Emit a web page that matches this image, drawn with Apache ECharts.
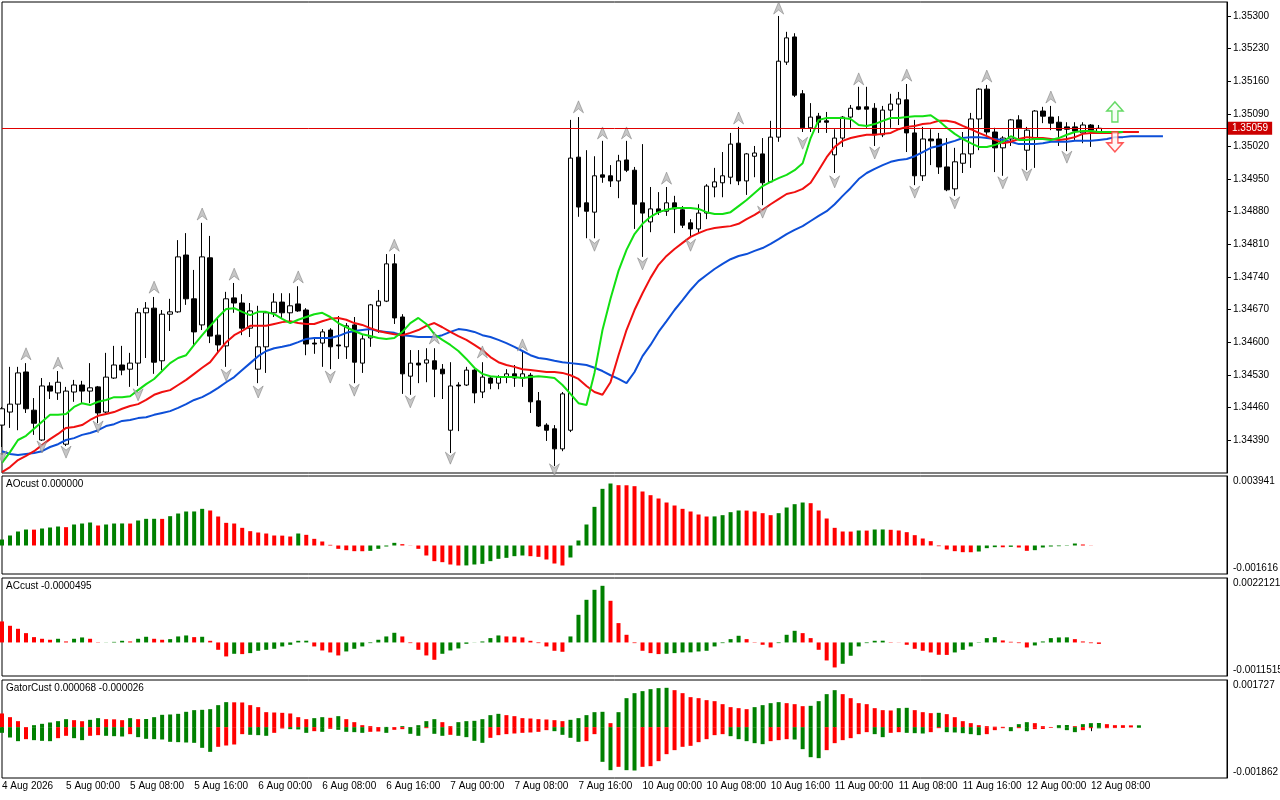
<!DOCTYPE html>
<html><head><meta charset="utf-8">
<script src="https://cdn.jsdelivr.net/npm/echarts@6/dist/echarts.min.js"></script>
<style>html,body{margin:0;padding:0;background:#fff}#c{width:1280px;height:800px}</style>
</head><body><div id="c"></div>
<script>
// ---- data (H1 bars, 4 Aug 2026 16:00 .. 12 Aug 2026 09:00) ----
const opens = [1.34422,1.34450,1.34467,1.34536,1.34454,1.34390,1.34506,1.34491,1.34381,1.34493,
1.34508,1.34495,1.34504,1.34450,1.34523,1.34551,1.34542,1.34555,1.34663,1.34673,
1.34560,1.34660,1.34665,1.34787,1.34693,1.34637,1.34781,1.34615,1.34592,1.34695,
1.34684,1.34630,1.34542,1.34590,1.34663,1.34686,1.34663,1.34682,1.34669,1.34598,
1.34598,1.34626,1.34594,1.34590,1.34637,1.34555,1.34609,1.34678,1.34688,1.34768,
1.34654,1.34527,1.34555,1.34555,1.34560,1.34542,1.34411,1.34508,1.34508,1.34540,
1.34493,1.34523,1.34512,1.34525,1.34532,1.34523,1.34529,1.34474,1.34422,1.34414,
1.34371,1.34411,1.34997,1.34899,1.34879,1.34959,1.34957,1.34946,1.34991,1.34969,
1.34899,1.34858,1.34886,1.34881,1.34899,1.34884,1.34856,1.34843,1.34877,1.34933,
1.34942,1.34954,1.35027,1.34946,1.34999,1.35004,1.34944,1.35040,1.35201,1.35255,
1.35133,1.35060,1.35085,1.35075,1.35002,1.35038,1.35083,1.35105,1.35105,1.35102,
1.35045,1.35098,1.35111,1.35120,1.35049,1.34957,1.35036,1.35036,1.34976,1.34929,
1.34984,1.35004,1.35079,1.35143,1.35051,1.35017,1.35036,1.35077,1.35012,1.35036,
1.35096,1.35083,1.35072,1.35062,1.35062,1.35049,1.35066,1.35051];
const highs = [1.34461,1.34547,1.34547,1.34555,1.34480,1.34523,1.34514,1.34538,1.34504,1.34519,
1.34517,1.34555,1.34506,1.34577,1.34592,1.34592,1.34577,1.34673,1.34686,1.34697,
1.34669,1.34693,1.34819,1.34834,1.34755,1.34856,1.34828,1.34652,1.34708,1.34727,
1.34703,1.34684,1.34678,1.34665,1.34705,1.34705,1.34705,1.34720,1.34673,1.34611,
1.34628,1.34630,1.34656,1.34641,1.34654,1.34615,1.34682,1.34712,1.34789,1.34789,
1.34660,1.34583,1.34583,1.34587,1.34587,1.34553,1.34557,1.34514,1.34547,1.34542,
1.34557,1.34525,1.34529,1.34542,1.34551,1.34583,1.34534,1.34493,1.34426,1.34422,
1.34493,1.35077,1.35083,1.35012,1.34999,1.35032,1.34980,1.35002,1.35032,1.34976,
1.35025,1.34933,1.34922,1.34933,1.34914,1.34892,1.34864,1.34896,1.34939,1.34974,
1.35008,1.35049,1.35062,1.35006,1.35021,1.35038,1.35075,1.35300,1.35266,1.35263,
1.35141,1.35113,1.35092,1.35094,1.35057,1.35085,1.35109,1.35148,1.35148,1.35113,
1.35107,1.35133,1.35137,1.35154,1.35077,1.35062,1.35057,1.35049,1.35038,1.35017,
1.35051,1.35092,1.35145,1.35152,1.35060,1.35042,1.35079,1.35087,1.35062,1.35098,
1.35105,1.35107,1.35085,1.35072,1.35072,1.35072,1.35068,1.35066];
const lows = [1.34375,1.34416,1.34411,1.34448,1.34401,1.34388,1.34478,1.34476,1.34377,1.34472,
1.34469,1.34469,1.34426,1.34448,1.34521,1.34529,1.34504,1.34506,1.34566,1.34532,
1.34540,1.34624,1.34663,1.34680,1.34592,1.34626,1.34598,1.34579,1.34547,1.34663,
1.34615,1.34611,1.34512,1.34534,1.34654,1.34652,1.34643,1.34665,1.34572,1.34575,
1.34547,1.34542,1.34564,1.34564,1.34512,1.34534,1.34590,1.34620,1.34686,1.34639,
1.34489,1.34487,1.34512,1.34514,1.34482,1.34478,1.34362,1.34409,1.34506,1.34469,
1.34480,1.34499,1.34499,1.34512,1.34504,1.34504,1.34448,1.34418,1.34388,1.34334,
1.34366,1.34407,1.34869,1.34823,1.34823,1.34942,1.34933,1.34909,1.34965,1.34843,
1.34783,1.34836,1.34873,1.34871,1.34834,1.34845,1.34826,1.34834,1.34864,1.34911,
1.34911,1.34939,1.34937,1.34916,1.34954,1.34894,1.34942,1.35030,1.35195,1.35126,
1.35051,1.35051,1.35049,1.35049,1.34963,1.35019,1.35060,1.35098,1.35060,1.35021,
1.35040,1.35060,1.35066,1.35008,1.34937,1.34946,1.34980,1.34961,1.34924,1.34914,
1.34963,1.34974,1.35012,1.35045,1.34965,1.34957,1.35021,1.35038,1.34969,1.34974,
1.35070,1.35055,1.35021,1.35010,1.35034,1.35027,1.35019,1.35049];
const closes = [1.34457,1.34467,1.34534,1.34457,1.34426,1.34506,1.34495,1.34514,1.34495,1.34508,
1.34495,1.34502,1.34448,1.34525,1.34551,1.34540,1.34555,1.34663,1.34673,1.34557,
1.34660,1.34665,1.34783,1.34693,1.34622,1.34783,1.34613,1.34594,1.34693,1.34684,
1.34630,1.34667,1.34590,1.34663,1.34686,1.34663,1.34678,1.34667,1.34596,1.34596,
1.34622,1.34590,1.34592,1.34635,1.34557,1.34607,1.34680,1.34688,1.34768,1.34652,
1.34532,1.34555,1.34551,1.34562,1.34542,1.34532,1.34506,1.34506,1.34540,1.34491,
1.34525,1.34512,1.34525,1.34532,1.34523,1.34532,1.34472,1.34420,1.34411,1.34371,
1.34489,1.34995,1.34890,1.34881,1.34957,1.34954,1.34946,1.34989,1.34969,1.34896,
1.34877,1.34886,1.34879,1.34899,1.34886,1.34851,1.34843,1.34877,1.34935,1.34944,
1.34957,1.35025,1.34946,1.35004,1.35006,1.34942,1.35040,1.35203,1.35253,1.35130,
1.35060,1.35083,1.35072,1.35072,1.35038,1.35083,1.35102,1.35100,1.35100,1.35045,
1.35098,1.35111,1.35122,1.35049,1.34957,1.35036,1.35032,1.34976,1.34927,1.34987,
1.35004,1.35079,1.35143,1.35051,1.35017,1.35038,1.35077,1.35060,1.35055,1.35096,
1.35085,1.35070,1.35055,1.35057,1.35053,1.35066,1.35055,1.35059];

// Alligator lines (already shifted forward: jaw 8, teeth 5, lips 3 bars)
const jaw = [1.34366,1.34360,1.34358,1.34360,1.34362,1.34366,1.34375,1.34381,1.34390,1.34394,
1.34401,1.34405,1.34411,1.34420,1.34424,1.34431,1.34433,1.34437,1.34439,1.34444,
1.34448,1.34452,1.34459,1.34467,1.34476,1.34482,1.34491,1.34502,1.34514,1.34525,
1.34540,1.34555,1.34570,1.34581,1.34587,1.34590,1.34594,1.34600,1.34607,1.34609,
1.34609,1.34609,1.34613,1.34620,1.34624,1.34626,1.34628,1.34624,1.34622,1.34620,
1.34615,1.34613,1.34611,1.34611,1.34611,1.34615,1.34622,1.34628,1.34626,1.34622,
1.34615,1.34611,1.34605,1.34598,1.34590,1.34581,1.34572,1.34566,1.34564,1.34560,
1.34557,1.34555,1.34553,1.34551,1.34545,1.34538,1.34529,1.34521,1.34512,1.34536,
1.34570,1.34594,1.34622,1.34645,1.34669,1.34690,1.34712,1.34731,1.34744,1.34757,
1.34768,1.34778,1.34785,1.34789,1.34796,1.34802,1.34811,1.34821,1.34832,1.34841,
1.34849,1.34860,1.34871,1.34881,1.34896,1.34914,1.34931,1.34950,1.34963,1.34972,
1.34980,1.34987,1.34991,1.34993,1.34999,1.35008,1.35017,1.35021,1.35027,1.35032,
1.35038,1.35040,1.35040,1.35038,1.35036,1.35034,1.35030,1.35025,1.35025,1.35025,
1.35027,1.35030,1.35030,1.35030,1.35032,1.35032,1.35032,1.35034,1.35036,1.35040,
1.35040,1.35042,1.35042,1.35042,1.35042,1.35042];
const teeth = [1.34321,1.34332,1.34347,1.34356,1.34366,1.34379,1.34392,1.34403,1.34416,1.34418,
1.34422,1.34433,1.34442,1.34446,1.34450,1.34457,1.34463,1.34467,1.34476,1.34487,
1.34493,1.34497,1.34508,1.34519,1.34532,1.34545,1.34557,1.34579,1.34600,1.34615,
1.34624,1.34635,1.34635,1.34635,1.34639,1.34643,1.34645,1.34641,1.34639,1.34639,
1.34645,1.34650,1.34652,1.34648,1.34641,1.34637,1.34630,1.34624,1.34620,1.34617,
1.34615,1.34620,1.34626,1.34635,1.34641,1.34632,1.34622,1.34613,1.34605,1.34594,
1.34583,1.34568,1.34557,1.34551,1.34547,1.34542,1.34540,1.34538,1.34536,1.34536,
1.34534,1.34529,1.34521,1.34506,1.34493,1.34487,1.34514,1.34572,1.34626,1.34669,
1.34705,1.34738,1.34766,1.34785,1.34800,1.34813,1.34826,1.34834,1.34841,1.34845,
1.34847,1.34849,1.34854,1.34864,1.34873,1.34884,1.34896,1.34907,1.34918,1.34922,
1.34929,1.34942,1.34969,1.34997,1.35019,1.35032,1.35038,1.35042,1.35045,1.35045,
1.35047,1.35049,1.35057,1.35062,1.35064,1.35068,1.35070,1.35075,1.35075,1.35072,
1.35064,1.35057,1.35049,1.35042,1.35034,1.35027,1.35030,1.35036,1.35040,1.35038,
1.35038,1.35036,1.35034,1.35036,1.35040,1.35047,1.35049,1.35049,1.35049,1.35049,
1.35051,1.35051,1.35051];
const lips = [1.34341,1.34364,1.34390,1.34399,1.34414,1.34429,1.34444,1.34444,1.34446,1.34461,
1.34469,1.34465,1.34472,1.34476,1.34482,1.34482,1.34484,1.34497,1.34510,1.34521,
1.34538,1.34555,1.34566,1.34572,1.34594,1.34615,1.34635,1.34654,1.34671,1.34673,
1.34665,1.34658,1.34665,1.34665,1.34660,1.34650,1.34641,1.34648,1.34654,1.34660,
1.34663,1.34654,1.34641,1.34632,1.34624,1.34617,1.34613,1.34609,1.34607,1.34609,
1.34622,1.34641,1.34652,1.34639,1.34617,1.34605,1.34594,1.34581,1.34564,1.34545,
1.34532,1.34527,1.34525,1.34525,1.34525,1.34523,1.34525,1.34527,1.34525,1.34523,
1.34508,1.34489,1.34469,1.34465,1.34534,1.34626,1.34693,1.34753,1.34798,1.34832,
1.34854,1.34869,1.34879,1.34884,1.34888,1.34888,1.34888,1.34886,1.34879,1.34875,
1.34875,1.34879,1.34892,1.34905,1.34920,1.34935,1.34944,1.34952,1.34959,1.34969,
1.34984,1.35038,1.35077,1.35081,1.35081,1.35081,1.35079,1.35066,1.35064,1.35068,
1.35075,1.35081,1.35081,1.35083,1.35085,1.35085,1.35087,1.35075,1.35060,1.35047,
1.35036,1.35027,1.35019,1.35019,1.35023,1.35030,1.35042,1.35034,1.35034,1.35036,
1.35036,1.35034,1.35038,1.35045,1.35051,1.35053,1.35053,1.35051,1.35051,1.35051,
1.35051];

// Fractals [barIndex, price at arrow]
const fractalUp = [[3,1.34575],[7,1.34555],[19,1.34718],[25,1.34875],[29,1.34746],[37,1.34740],[49,1.34808],[54,1.34609],[60,1.34579],[65,1.34594],[72,1.35105],[75,1.35049],[78,1.35049],[83,1.34952],[92,1.35081],[97,1.35317],[107,1.35165],[113,1.35173],[123,1.35171],[131,1.35126]];
const fractalDown = [[0,1.34354],[5,1.34375],[8,1.34364],[12,1.34418],[17,1.34487],[28,1.34529],[32,1.34493],[41,1.34525],[44,1.34497],[51,1.34472],[56,1.34351],[69,1.34326],[74,1.34808],[80,1.34768],[86,1.34808],[95,1.34879],[100,1.35027],[104,1.34944],[109,1.35006],[114,1.34922],[119,1.34899],[125,1.34942],[128,1.34959],[133,1.34997]];
const signalUp = [[139,1.35094]];
const signalDown = [[139,1.35030]];
const lastPrice = 1.35059;

// Awesome Oscillator
const ao = [0.000340,0.000567,0.000794,0.000907,0.000900,0.000964,0.001021,0.001077,0.001040,0.001191,
0.001247,0.001304,0.001134,0.001191,0.001247,0.001250,0.001245,0.001418,0.001512,0.001515,
0.001510,0.001663,0.001814,0.001928,0.001930,0.002079,0.001985,0.001644,0.001285,0.001247,
0.001002,0.000813,0.000737,0.000680,0.000567,0.000560,0.000510,0.000680,0.000605,0.000378,
0.000227,0.000038,-0.000189,-0.000265,-0.000321,-0.000325,-0.000302,-0.000189,-0.000057,0.000151,
0.000076,-0.000010,-0.000189,-0.000567,-0.000888,-0.000945,-0.001077,-0.001134,-0.001130,-0.001077,
-0.001040,-0.000888,-0.000756,-0.000699,-0.000605,-0.000567,-0.000605,-0.000643,-0.000794,-0.001021,
-0.001134,-0.000680,0.000284,0.001191,0.002192,0.003213,0.003515,0.003421,0.003415,0.003364,
0.003062,0.002853,0.002665,0.002438,0.002268,0.002079,0.001928,0.001758,0.001644,0.001650,
0.001720,0.001890,0.001985,0.001980,0.001928,0.001833,0.001720,0.001833,0.002155,0.002343,
0.002438,0.002400,0.001985,0.001531,0.001002,0.000794,0.000790,0.000851,0.000845,0.000907,
0.000910,0.000890,0.000851,0.000756,0.000586,0.000397,0.000246,-0.000040,-0.000227,-0.000321,
-0.000378,-0.000382,-0.000340,-0.000151,-0.000095,-0.000100,-0.000076,-0.000113,-0.000302,-0.000265,
-0.000113,-0.000057,-0.000040,-0.000020,0.000113,0.000057,0.000010,0.000000];
// Accelerator Oscillator
const ac = [0.000721,0.000572,0.000469,0.000320,0.000183,0.000126,0.000092,0.000126,0.000034,0.000126,
0.000172,0.000126,-0.000010,0.000005,0.000020,0.000057,0.000034,0.000126,0.000195,0.000126,
0.000092,0.000114,0.000206,0.000240,0.000183,0.000195,0.000057,-0.000252,-0.000480,-0.000389,
-0.000400,-0.000366,-0.000286,-0.000252,-0.000217,-0.000137,-0.000080,0.000057,0.000060,-0.000137,
-0.000275,-0.000343,-0.000446,-0.000309,-0.000217,-0.000137,-0.000023,0.000092,0.000206,0.000332,
0.000206,-0.000023,-0.000252,-0.000446,-0.000595,-0.000389,-0.000275,-0.000206,-0.000046,0.000005,
0.000034,0.000149,0.000240,0.000206,0.000200,0.000172,0.000057,-0.000023,-0.000137,-0.000286,
-0.000320,0.000206,0.000949,0.001464,0.001807,0.001944,0.001430,0.000664,0.000263,-0.000023,
-0.000286,-0.000366,-0.000400,-0.000389,-0.000366,-0.000343,-0.000340,-0.000309,-0.000286,-0.000137,
-0.000023,0.000114,0.000229,0.000114,0.000011,-0.000080,-0.000172,-0.000023,0.000263,0.000400,
0.000320,0.000149,-0.000252,-0.000618,-0.000858,-0.000732,-0.000457,-0.000137,-0.000023,0.000057,
0.000060,0.000011,-0.000005,-0.000080,-0.000217,-0.000286,-0.000343,-0.000423,-0.000428,-0.000343,
-0.000252,-0.000137,0.000011,0.000149,0.000183,0.000069,0.000023,-0.000023,-0.000172,-0.000103,
0.000034,0.000149,0.000172,0.000175,0.000114,0.000034,-0.000025,-0.0000495];
// Gator oscillator (upper and lower histograms)
const gatorUp = [0.000501,0.000366,0.000220,0.000006,0.000073,0.000122,0.000171,0.000220,0.000293,0.000256,
0.000218,0.000269,0.000330,0.000293,0.000287,0.000256,0.000330,0.000293,0.000299,0.000366,
0.000452,0.000464,0.000488,0.000562,0.000623,0.000635,0.000659,0.000806,0.000916,0.000910,
0.000904,0.000806,0.000733,0.000549,0.000537,0.000525,0.000501,0.000366,0.000293,0.000330,
0.000366,0.000342,0.000403,0.000293,0.000183,0.000073,0.000037,0.000006,0.000009,0.000005,
0.000037,0.000006,0.000073,0.000220,0.000293,0.000183,0.000037,0.000183,0.000220,0.000232,
0.000293,0.000440,0.000488,0.000440,0.000403,0.000330,0.000317,0.000293,0.000281,0.000256,
0.000220,0.000269,0.000330,0.000440,0.000549,0.000562,0.000147,0.000549,0.001062,0.001245,
0.001319,0.001392,0.001429,0.001441,0.001355,0.001245,0.001099,0.001062,0.000989,0.000952,
0.000842,0.000733,0.000696,0.000659,0.000733,0.000806,0.000879,0.000916,0.000879,0.000842,
0.000769,0.000781,0.000952,0.001209,0.001355,0.001209,0.001062,0.000879,0.000842,0.000696,
0.000623,0.000611,0.000696,0.000708,0.000623,0.000549,0.000513,0.000525,0.000476,0.000366,
0.000220,0.000147,0.000073,0.000037,0.000018,0.000012,0.000006,0.000110,0.000183,0.000147,
0.000037,0.000007,0.000073,0.000079,0.000037,0.000110,0.000147,0.000153,0.000110,0.000073,
0.000072,0.000066,0.000068];
const gatorDown = [-0.000208,-0.000379,-0.000513,-0.000440,-0.000476,-0.000501,-0.000513,-0.000403,-0.000317,-0.000403,
-0.000476,-0.000317,-0.000293,-0.000317,-0.000330,-0.000342,-0.000256,-0.000366,-0.000427,-0.000440,
-0.000452,-0.000537,-0.000549,-0.000562,-0.000574,-0.000757,-0.000904,-0.000720,-0.000672,-0.000635,
-0.000256,-0.000281,-0.000293,-0.000317,-0.000208,-0.000049,-0.000073,-0.000085,-0.000208,-0.000147,
-0.000171,-0.000061,-0.000098,-0.000171,-0.000183,-0.000208,-0.000171,-0.000159,-0.000208,-0.000098,
-0.000073,-0.000244,-0.000317,-0.000037,-0.000244,-0.000317,-0.000281,-0.000317,-0.000366,-0.000501,
-0.000574,-0.000391,-0.000293,-0.000256,-0.000232,-0.000208,-0.000195,-0.000171,-0.000110,-0.000147,
-0.000281,-0.000391,-0.000537,-0.000513,-0.000256,-0.001270,-0.001575,-0.001453,-0.001575,-0.001587,
-0.001453,-0.001429,-0.001245,-0.000989,-0.000842,-0.000720,-0.000684,-0.000549,-0.000440,-0.000293,
-0.000256,-0.000330,-0.000440,-0.000513,-0.000586,-0.000623,-0.000513,-0.000476,-0.000440,-0.000452,
-0.000806,-0.001099,-0.001136,-0.000842,-0.000586,-0.000476,-0.000403,-0.000256,-0.000183,-0.000256,
-0.000366,-0.000208,-0.000183,-0.000208,-0.000220,-0.000232,-0.000183,-0.000037,-0.000183,-0.000195,
-0.000220,-0.000256,-0.000293,-0.000256,-0.000110,-0.000037,-0.000147,-0.000037,-0.000147,-0.000073,
-0.000067,-0.000024,-0.000037,-0.000110,-0.000183,-0.000110,-0.000037,-0.000043,-0.000037,-0.000034,
-0.000031,-0.000012,-0.000026];

// axis ticks / labels
const priceTicks = [1.34390,1.34460,1.34530,1.34600,1.34670,1.34740,1.34810,1.34880,1.34950,1.35020,1.35090,1.35160,1.35230,1.35300];
const priceRange = [1.343192, 1.353300];
const aoRange = [-0.001616, 0.003941];
const acRange = [-0.0011515, 0.0022121];
const gatorRange = [-0.001862, 0.001727];
const timeLabels = ['4 Aug 2026','5 Aug 00:00','5 Aug 08:00','5 Aug 16:00','6 Aug 00:00','6 Aug 08:00','6 Aug 16:00','7 Aug 00:00','7 Aug 08:00','7 Aug 16:00','10 Aug 00:00','10 Aug 08:00','10 Aug 16:00','11 Aug 00:00','11 Aug 08:00','11 Aug 16:00','12 Aug 00:00','12 Aug 08:00'];
const labelEvery = 8;
const slotCount = 154;

// ---- chart ----
const FONT = '"Liberation Sans", Arial, sans-serif';
const GREEN = '#008000', RED = '#ff0000';
const cats = Array.from({length: slotCount}, (_, i) => i);
const candles = opens.map((o, i) => [o, closes[i], lows[i], highs[i]]);

function trendColor(arr, firstColor, useAbs) {
  return p => {
    const i = p.dataIndex;
    if (i === 0) return firstColor;
    const a = useAbs ? Math.abs(arr[i]) : arr[i];
    const b = useAbs ? Math.abs(arr[i - 1]) : arr[i - 1];
    return a > b ? GREEN : RED;
  };
}
const gridBase = {left: 2, width: 1225, show: true, borderColor: '#000', borderWidth: 1, backgroundColor: '#fff',
                  containLabel: false, outerBoundsMode: 'none'};
function hiddenX(gi) {
  return {type: 'category', gridIndex: gi, data: cats, boundaryGap: false, show: false};
}
function indAxis(gi, range, dec) {
  return {
    type: 'value', gridIndex: gi, position: 'right', min: range[0], max: range[1],
    splitLine: {show: false},
    axisLine: {show: true, lineStyle: {color: '#000', width: 1}},
    axisTick: {show: false},
    axisLabel: {
      customValues: range, color: '#000', fontSize: 10, fontFamily: FONT, margin: 6,
      formatter: v => (v > 0 ? '{t|' : '{b|') + v.toFixed(dec) + '}',
      rich: {
        t: {padding: [11, 0, 0, 0], fontSize: 10, fontFamily: FONT, color: '#000'},
        b: {padding: [0, 0, 11, 0], fontSize: 10, fontFamily: FONT, color: '#000'}
      }
    }
  };
}
const showLabel = idx => idx % labelEvery === 0 && idx / labelEvery < timeLabels.length;

const option = {
  animation: false,
  backgroundColor: '#fff',
  grid: [
    Object.assign({top: 2, height: 471}, gridBase),
    Object.assign({top: 476, height: 98}, gridBase),
    Object.assign({top: 578, height: 98}, gridBase),
    Object.assign({top: 680, height: 98}, gridBase)
  ],
  xAxis: [
    hiddenX(0), hiddenX(1), hiddenX(2),
    {
      type: 'category', gridIndex: 3, data: cats, boundaryGap: false,
      axisLine: {show: false},
      axisTick: {show: true, length: 4, interval: showLabel, lineStyle: {color: '#000'}},
      axisLabel: {
        interval: showLabel, align: 'left', margin: 3, color: '#000', fontSize: 10, fontFamily: FONT,
        formatter: (v, idx) => timeLabels[idx / labelEvery]
      }
    }
  ],
  yAxis: [
    {
      type: 'value', gridIndex: 0, position: 'right', min: priceRange[0], max: priceRange[1],
      splitLine: {show: false},
      axisLine: {show: true, lineStyle: {color: '#000', width: 1}},
      axisTick: {show: true, length: 4, customValues: priceTicks, lineStyle: {color: '#000'}},
      axisLabel: {customValues: priceTicks, formatter: v => v.toFixed(5), color: '#000', fontSize: 10, fontFamily: FONT, margin: 6}
    },
    indAxis(1, aoRange, 6),
    indAxis(2, acRange, 7),
    indAxis(3, gatorRange, 6)
  ],
  graphic: [
    {type: 'text', left: 6, top: 479, z: 100, style: {text: 'AOcust 0.000000', font: '10px ' + FONT, fill: '#000'}},
    {type: 'text', left: 6, top: 581, z: 100, style: {text: 'ACcust -0.0000495', font: '10px ' + FONT, fill: '#000'}},
    {type: 'text', left: 6, top: 683, z: 100, style: {text: 'GatorCust 0.000068 -0.000026', font: '10px ' + FONT, fill: '#000'}}
  ],
  series: [
    {
      type: 'candlestick', xAxisIndex: 0, yAxisIndex: 0, data: candles, barWidth: 5, clip: true,
      itemStyle: {color: '#ffffff', color0: '#000000', borderColor: '#000000', borderColor0: '#000000', borderWidth: 1},
      markLine: {
        silent: true, symbol: ['none', 'none'], animation: false, precision: 5,
        lineStyle: {color: '#e00000', width: 1, type: 'solid'},
        label: {show: true, position: 'end', distance: 1, formatter: lastPrice.toFixed(5), color: '#fff',
                backgroundColor: '#cc0000', padding: [2, 4, 1, 4], fontSize: 10, fontFamily: FONT},
        data: [{yAxis: lastPrice}]
      }
    },
    {type: 'line', name: 'Jaw', xAxisIndex: 0, yAxisIndex: 0, data: jaw, showSymbol: false, symbol: 'none',
     lineStyle: {color: '#0d4fd8', width: 2}, z: 3},
    {type: 'line', name: 'Teeth', xAxisIndex: 0, yAxisIndex: 0, data: teeth, showSymbol: false, symbol: 'none',
     lineStyle: {color: '#f01010', width: 2}, z: 3},
    {type: 'line', name: 'Lips', xAxisIndex: 0, yAxisIndex: 0, data: lips, showSymbol: false, symbol: 'none',
     lineStyle: {color: '#12e012', width: 2}, z: 3},
    {type: 'scatter', xAxisIndex: 0, yAxisIndex: 0, data: fractalUp, z: 4,
     symbol: 'path://M5,0 L10,12 L5,8 L0,12 Z', symbolSize: [10, 12],
     itemStyle: {color: '#b8b8b8', borderColor: '#707070', borderWidth: 0.6}},
    {type: 'scatter', xAxisIndex: 0, yAxisIndex: 0, data: fractalDown, z: 4,
     symbol: 'path://M0,0 L5,4 L10,0 L5,12 Z', symbolSize: [10, 12],
     itemStyle: {color: '#b8b8b8', borderColor: '#707070', borderWidth: 0.6}},
    {type: 'scatter', xAxisIndex: 0, yAxisIndex: 0, data: signalUp, z: 5,
     symbol: 'path://M8,0 L16,9 L11,9 L11,20 L5,20 L5,9 L0,9 Z', symbolSize: [16, 20],
     itemStyle: {color: '#f4fff4', borderColor: '#3fcf3f', borderWidth: 1.5}},
    {type: 'scatter', xAxisIndex: 0, yAxisIndex: 0, data: signalDown, z: 5,
     symbol: 'path://M5,0 L11,0 L11,11 L16,11 L8,20 L0,11 L5,11 Z', symbolSize: [16, 20],
     itemStyle: {color: '#fff4f4', borderColor: '#ff3030', borderWidth: 1.5}},
    {type: 'bar', xAxisIndex: 1, yAxisIndex: 1, data: ao, barWidth: 4,
     itemStyle: {color: trendColor(ao, GREEN, false)}},
    {type: 'bar', xAxisIndex: 2, yAxisIndex: 2, data: ac, barWidth: 4,
     itemStyle: {color: trendColor(ac, RED, false)}},
    {type: 'bar', xAxisIndex: 3, yAxisIndex: 3, data: gatorUp, barWidth: 4, barGap: '-100%',
     itemStyle: {color: trendColor(gatorUp, RED, false)}},
    {type: 'bar', xAxisIndex: 3, yAxisIndex: 3, data: gatorDown, barWidth: 4, barGap: '-100%',
     itemStyle: {color: trendColor(gatorDown, GREEN, true)}}
  ]
};
const chart = echarts.init(document.getElementById('c'), null, {renderer: 'canvas'});
chart.setOption(option);
</script>
</body></html>
